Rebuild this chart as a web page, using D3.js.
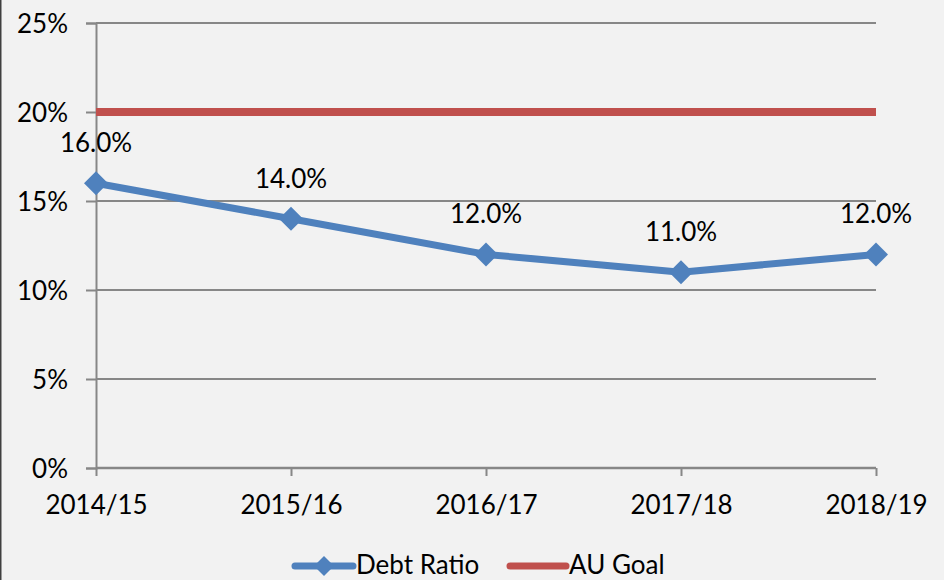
<!DOCTYPE html>
<html>
<head>
<meta charset="utf-8">
<script src="https://cdn.jsdelivr.net/npm/d3@7"></script>
<style>
html,body{margin:0;padding:0;background:#F2F2F2;}
svg{display:block;}
text{font-family:Lato,"Open Sans",sans-serif;fill:#000;}
</style>
</head>
<body>
<svg id="chart" width="944" height="580"></svg>
<script>
const categories = ["2014/15","2015/16","2016/17","2017/18","2018/19"];
const debtRatio = [0.16,0.14,0.12,0.11,0.12];
const auGoal = [0.20,0.20,0.20,0.20,0.20];
const yTicks = [0,0.05,0.10,0.15,0.20,0.25];
const seriesNames = ["Debt Ratio","AU Goal"];
const colors = {blue:"#4F81BD", red:"#C0504D", grid:"#878787"};

const svg = d3.select("#chart");
const W=944,H=580;
svg.append("rect").attr("width",W).attr("height",H).attr("fill","#F2F2F2");
svg.append("line").attr("x1",0.75).attr("x2",0.75).attr("y1",0).attr("y2",H).attr("stroke","#404040").attr("stroke-width",1.5);

const x = d3.scalePoint().domain(categories).range([96,876]);
const y = d3.scaleLinear().domain([0,0.25]).range([468,23]);
const fs = 26;

// gridlines
svg.append("g").selectAll("line").data(yTicks.filter(d=>d>0)).join("line")
  .attr("x1",96).attr("x2",876).attr("y1",d=>y(d)).attr("y2",d=>y(d))
  .attr("stroke",colors.grid).attr("stroke-width",2);

// y axis
const yAxis = d3.axisLeft(y).tickValues(yTicks).tickFormat(d3.format(".0%")).tickSize(10).tickPadding(18);
const gy = svg.append("g").attr("transform","translate(96,0)").call(yAxis);
gy.select(".domain").attr("stroke",colors.grid).attr("stroke-width",2);
gy.selectAll(".tick line").attr("stroke",colors.grid).attr("stroke-width",2);
gy.selectAll("text").attr("font-size",fs).attr("font-family","Lato").attr("fill","#000").attr("dy","0.35em");

// x axis
const xAxis = d3.axisBottom(x).tickSize(8).tickPadding(20);
const gx = svg.append("g").attr("transform","translate(0,468)").call(xAxis);
gx.select(".domain").attr("stroke",colors.grid).attr("stroke-width",2.5).attr("d","M96,0H876");
gx.selectAll(".tick line").attr("stroke",colors.grid).attr("stroke-width",2);
gx.selectAll("text").attr("font-size",fs).attr("font-family","Lato").attr("fill","#000").attr("dy","0.71em");

// AU goal line
const line = d3.line().x((d,i)=>x(categories[i])).y(d=>y(d));
svg.append("path").datum(auGoal).attr("d",line).attr("fill","none")
  .attr("stroke",colors.red).attr("stroke-width",8);

// Debt ratio line
svg.append("path").datum(debtRatio).attr("d",line).attr("fill","none")
  .attr("stroke",colors.blue).attr("stroke-width",7).attr("stroke-linejoin","round");

const diamond = d3.symbol().type(d3.symbolDiamond2 || d3.symbolSquare2).size(288);
svg.append("g").selectAll("path").data(debtRatio).join("path")
  .attr("d",d3.symbol().type(d3.symbolSquare).size(288))
  .attr("transform",(d,i)=>`translate(${x(categories[i])},${y(d)}) rotate(45)`)
  .attr("fill",colors.blue);

// data labels
svg.append("g").selectAll("text").data(debtRatio).join("text")
  .attr("x",(d,i)=>x(categories[i])).attr("y",d=>y(d)-31)
  .attr("text-anchor","middle").attr("font-size",fs)
  .text(d=>d3.format(".1%")(d));

// legend
const lg = svg.append("g");
lg.append("line").attr("x1",295).attr("x2",353).attr("y1",566).attr("y2",566)
  .attr("stroke",colors.blue).attr("stroke-width",7).attr("stroke-linecap","round");
lg.append("path").attr("d",d3.symbol().type(d3.symbolSquare).size(200))
  .attr("transform","translate(324,566) rotate(45)").attr("fill",colors.blue);
lg.append("text").attr("x",356).attr("y",574).attr("font-size",fs).text(seriesNames[0]);
lg.append("line").attr("x1",510).attr("x2",566).attr("y1",566).attr("y2",566)
  .attr("stroke",colors.red).attr("stroke-width",7).attr("stroke-linecap","round");
lg.append("text").attr("x",569).attr("y",574).attr("font-size",fs).text(seriesNames[1]);
</script>
</body>
</html>
